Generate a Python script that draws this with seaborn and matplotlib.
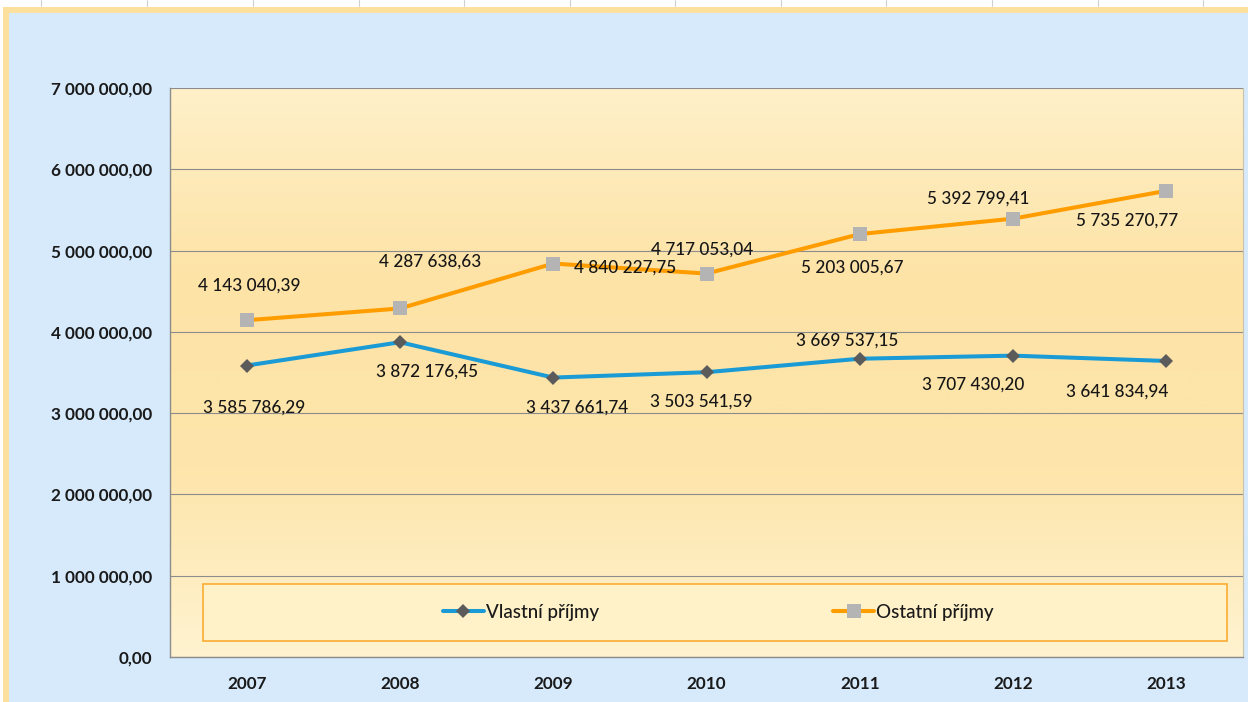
import numpy as np
import pandas as pd
import seaborn as sns
import matplotlib.pyplot as plt
from matplotlib.patches import Rectangle
from matplotlib.lines import Line2D
from matplotlib.colors import LinearSegmentedColormap
from matplotlib.ticker import FuncFormatter, MultipleLocator

# data
roky = ["2007", "2008", "2009", "2010", "2011", "2012", "2013"]
vlastni = [3585786.29, 3872176.45, 3437661.74, 3503541.59, 3669537.15, 3707430.20, 3641834.94]
ostatni = [4143040.39, 4287638.63, 4840227.75, 4717053.04, 5203005.67, 5392799.41, 5735270.77]

# where each value label sits relative to its point (pixels, y up)
off_vlastni = [(7, -42), (27, -29), (24, -30), (-5, -29), (-13, 18), (-40, -29), (-49, -31)]
off_ostatni = [(3, 35), (30, 47), (72, -4), (-4, 24), (-8, -34), (-35, 20), (-39, -30)]


def cz(v, pos=None):   # 1 234 567,89 style
    return f"{v:,.2f}".replace(",", " ").replace(".", ",")


df = pd.DataFrame({"rok": roky, "x": np.arange(len(roky)),
                   "Vlastní příjmy": vlastni, "Ostatní příjmy": ostatni})

sns.set_theme(style="white")
plt.rcParams["font.family"] = ["Lato", "DejaVu Sans"]

W, H = 1248, 702
fig = plt.figure(figsize=(W / 100, H / 100), dpi=100, facecolor="#d6eafc")

# spreadsheet leftovers round the chart object
fig.patches.append(Rectangle((0, 1 - 7 / H), 1, 7 / H, transform=fig.transFigure,
                             facecolor="white", edgecolor="none", zorder=0))
fig.patches.append(Rectangle((0, 1 - 13 / H), 1, 6 / H, transform=fig.transFigure,
                             facecolor="#fde09e", edgecolor="none", zorder=0))
fig.patches.append(Rectangle((0, 0), 3 / W, 1 - 7 / H, transform=fig.transFigure,
                             facecolor="white", edgecolor="none", zorder=0))
fig.patches.append(Rectangle((3 / W, 0), 6 / W, 1 - 7 / H, transform=fig.transFigure,
                             facecolor="#fde09e", edgecolor="none", zorder=0))
for cx in [41, 147, 253, 359, 464, 570, 675, 781, 886, 992, 1098, 1203]:
    fig.lines.append(Line2D([cx / W, cx / W], [1 - 6 / H, 1], transform=fig.transFigure,
                            color="#d0d0d0", lw=0.8))

ax = fig.add_axes([170 / W, 45 / H, 1073 / W, 569 / H])

# plot area gradient
grad = LinearSegmentedColormap.from_list("bg", ["#fff3d0", "#fde5ab", "#fde3a6", "#fff0c9"])
ax.imshow(np.linspace(1, 0, 256)[:, None], cmap=grad, aspect="auto",
          extent=(0, 1, 0, 1), transform=ax.transAxes, zorder=0)

ax.yaxis.grid(True, color="#8c8c8c", lw=0.8, zorder=1)
ax.set_axisbelow(True)

sns.lineplot(data=df, x="x", y="Vlastní příjmy", ax=ax, color="#1b9bd6", lw=2.9,
             marker="D", markersize=7.5, markerfacecolor="#5b5b5b", markeredgewidth=0,
             label="Vlastní příjmy", zorder=3)
sns.lineplot(data=df, x="x", y="Ostatní příjmy", ax=ax, color="#ff9d00", lw=2.9,
             marker="s", markersize=10, markerfacecolor="#b4b4b4", markeredgewidth=0,
             label="Ostatní příjmy", zorder=3)

for i in range(len(roky)):
    ax.annotate(cz(vlastni[i]), (df["x"][i], vlastni[i]), xytext=off_vlastni[i],
                textcoords="offset pixels", ha="center", va="center",
                fontsize=12.3, fontweight="medium", color="#161616", zorder=5)
    ax.annotate(cz(ostatni[i]), (df["x"][i], ostatni[i]), xytext=off_ostatni[i],
                textcoords="offset pixels", ha="center", va="center",
                fontsize=12.3, fontweight="medium", color="#161616", zorder=5)

ax.set_xlim(-0.5, len(roky) - 0.5)
ax.set_ylim(0, 7000000)
ax.yaxis.set_major_locator(MultipleLocator(1000000))
ax.yaxis.set_major_formatter(FuncFormatter(cz))
ax.set_xticks(df["x"])
ax.set_xticklabels(roky)
ax.set_xlabel("")
ax.set_ylabel("")
ax.tick_params(axis="y", length=0, pad=13, labelsize=12.3, labelcolor="#1a1a1a")
ax.tick_params(axis="x", length=0, pad=14, labelsize=12.3, labelcolor="#1a1a1a")
for t in ax.get_xticklabels() + ax.get_yticklabels():
    t.set_fontweight("bold")

for side in ["left", "bottom"]:
    ax.spines[side].set_color("#8c8c8c")
    ax.spines[side].set_linewidth(1.0)
ax.spines["top"].set_visible(False)
ax.spines["right"].set_color("#c9c2ad")
ax.spines["right"].set_linewidth(0.8)

# legend box inside the plot area
ax.add_patch(Rectangle((33 / 1073, 16 / 569), 1024 / 1073, 57 / 569, transform=ax.transAxes,
                       facecolor="#fff1c8", edgecolor="#fbac32", lw=1.2, zorder=4))
leg = ax.legend(loc="center", bbox_to_anchor=(0.511, 0.079), ncol=2, frameon=False,
                prop={"size": 13.5, "weight": "medium"}, columnspacing=12.5,
                handlelength=2.2, handletextpad=0.1)
leg.set_zorder(6)
for t in leg.get_texts():
    t.set_color("#1a1a1a")

plt.savefig("out.png", dpi=100, facecolor=fig.get_facecolor())
